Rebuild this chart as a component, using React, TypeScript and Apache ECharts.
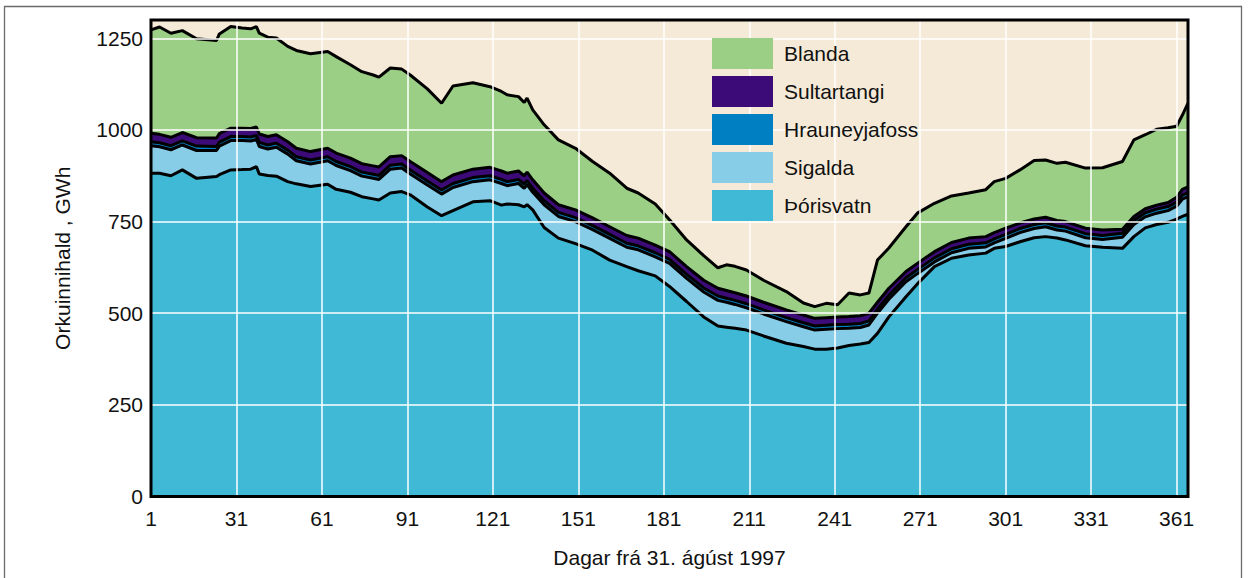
import React, { useEffect, useRef } from "react";
import * as echarts from "echarts";

const days = [1,4,8,12,17,24,25,29,33,36,38,39,42,45,49,52,57,63,66,71,75,79,81,85,89,92,98,103,107,114,120,124,126,130,132,133,135,139,144,150,156,162,168,172,178,183,189,195,200,203,206,210,216,224,230,234,238,242,246,250,253,256,260,266,270,276,282,288,294,297,301,306,311,315,319,322,329,335,342,346,350,354,358,361,363,365];

const thorisvatn = [882,882,875,891,868,873,878,891,892,893,900,880,876,874,859,853,846,852,838,830,818,812,809,828,832,823,790,766,780,804,807,795,798,796,790,796,782,734,705,690,672,645,627,616,602,573,532,490,465,462,459,454,438,418,409,402,402,405,412,416,420,445,490,545,580,627,650,659,664,677,682,695,706,709,705,700,684,680,677,709,733,742,748,757,764,770];

const sigalda = [75,72,71,68,76,71,78,80,79,77,74,75,72,79,75,63,61,64,65,59,56,56,56,65,64,57,60,59,63,55,57,59,50,58,51,55,48,62,59,60,56,59,53,57,52,63,63,68,70,68,65,61,60,59,54,52,54,53,47,45,48,55,48,41,28,13,15,18,17,15,22,25,25,27,22,24,22,21,30,33,30,31,32,35,47,48];

const hrauneyjafoss = [11,11,11,11,12,11,11,11,11,11,11,11,11,11,11,11,11,11,11,11,11,11,11,11,11,11,11,11,11,11,11,11,11,11,11,11,11,11,11,11,11,11,11,11,11,11,11,11,12,11,11,11,11,11,11,11,11,11,11,11,11,11,11,11,11,11,11,11,11,11,11,11,11,11,11,11,11,11,11,11,11,11,11,11,11,11];

const sultartangi = [23,23,23,23,23,23,23,23,23,23,23,23,23,23,23,23,23,23,23,23,23,23,23,23,23,23,23,23,23,23,23,23,23,23,23,23,23,21,21,21,21,21,21,21,21,21,21,21,21,21,21,21,21,21,21,21,21,21,21,21,21,19,19,17,17,17,17,17,17,17,17,15,15,15,15,15,15,15,11,11,11,11,11,13,16,16];

const blanda = [282,293,284,278,270,266,272,277,273,272,274,275,271,264,260,267,267,264,263,255,251,248,245,242,236,236,228,214,243,236,220,217,214,203,200,202,191,186,177,168,154,146,129,123,112,87,73,67,56,70,72,71,60,50,33,32,39,33,64,57,55,115,110,122,137,132,127,123,128,139,136,145,160,156,156,162,164,170,185,209,202,207,204,194,202,228];

const xTickLabels = [1,31,61,91,121,151,181,211,241,271,301,331,361];
const yTickLabels = [0,250,500,750,1000,1250];

const seriesNames = ["Þórisvatn", "Sigalda", "Hrauneyjafoss", "Sultartangi", "Blanda"];
const seriesColors = ["#3FB9D6", "#88CDE7", "#0080C3", "#3D0B78", "#9BCF85"];
const seriesValues = [thorisvatn, sigalda, hrauneyjafoss, sultartangi, blanda];
const legendOrder = ["Blanda", "Sultartangi", "Hrauneyjafoss", "Sigalda", "Þórisvatn"];

export default function App() {
  const ref = useRef<HTMLDivElement>(null);
  useEffect(() => {
    if (!ref.current) return;
    const chart = echarts.init(ref.current, undefined, { renderer: "svg" });
    const font = "'Liberation Sans', Arial, Helvetica, sans-serif";
    const option: any = {
      animation: false,
      backgroundColor: "#ffffff",
      textStyle: { fontFamily: font },
      grid: {
        left: 151,
        top: 20,
        right: 60,
        bottom: 81.5,
        show: true,
        backgroundColor: "#F5EAD7",
        borderWidth: 0,
      },
      legend: {
        data: legendOrder,
        orient: "vertical",
        left: 712,
        top: 38,
        padding: 0,
        itemWidth: 61,
        itemHeight: 31,
        itemGap: 7,
        icon: "rect",
        z: 20,
        itemStyle: { borderWidth: 0 },
        textStyle: { fontSize: 21, color: "#111", fontFamily: font, padding: [0, 0, 0, 6] },
      },
      xAxis: {
        type: "value",
        min: 1,
        max: 365,
        interval: 30,
        z: 10,
        axisLine: { show: false },
        axisTick: { show: false, customValues: xTickLabels },
        axisLabel: {
          customValues: xTickLabels,
          fontSize: 21,
          color: "#111",
          margin: 11,
          formatter: (v: number) => String(v),
        },
        splitLine: { show: true, lineStyle: { color: "#ffffff", width: 1.5 } },
        name: "Dagar frá 31. ágúst 1997",
        nameLocation: "middle",
        nameGap: 50,
        nameTextStyle: { fontSize: 21, color: "#111" },
      },
      yAxis: {
        type: "value",
        min: 0,
        max: 1300,
        interval: 250,
        z: 10,
        axisLine: { show: false },
        axisTick: { show: false, customValues: yTickLabels },
        axisLabel: {
          customValues: yTickLabels,
          fontSize: 21,
          color: "#111",
          margin: 8,
          formatter: (v: number) => String(v),
        },
        splitLine: { show: true, lineStyle: { color: "#ffffff", width: 1.5 } },
        name: "Orkuinnihald , GWh",
        nameLocation: "middle",
        nameGap: 78,
        nameTextStyle: { fontSize: 21, color: "#111" },
      },
      graphic: [
        {
          type: "rect",
          shape: { x: 4.5, y: 6.5, width: 1237, height: 620 },
          style: { fill: "none", stroke: "#6a6a6a", lineWidth: 1.3 },
          z: 0,
          silent: true,
        },
        {
          type: "rect",
          shape: { x: 151, y: 20, width: 1037, height: 476.5 },
          style: { fill: "none", stroke: "#000", lineWidth: 3 },
          z: 100,
          silent: true,
        },
      ],
      series: seriesNames.map((name, k) => ({
        name,
        type: "line",
        stack: "total",
        symbol: "none",
        showSymbol: false,
        color: seriesColors[k],
        itemStyle: { color: seriesColors[k] },
        lineStyle: { color: "#000", width: 3 },
        areaStyle: { color: seriesColors[k], opacity: 1 },
        encode: { x: 1, y: 0 },
        data: days.map((d, i) => [seriesValues[k][i], d]),
      })),
    };
    chart.setOption(option);
    return () => chart.dispose();
  }, []);
  return (
    <div
      ref={ref}
      style={{ position: "absolute", left: 0, top: 0, width: 1248, height: 578 }}
    />
  );
}
